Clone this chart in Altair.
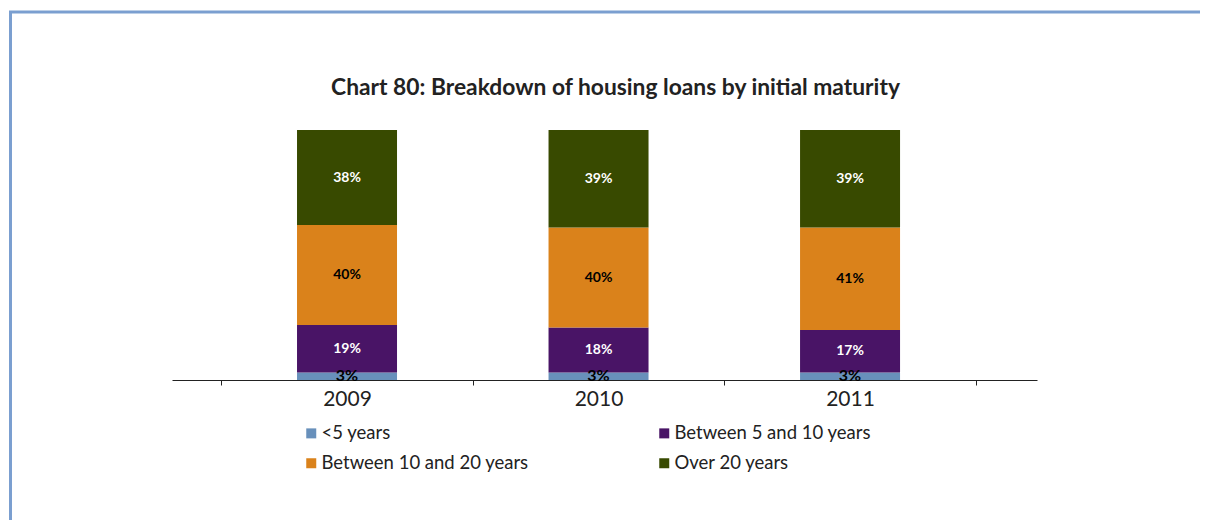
import altair as alt
import pandas as pd

years = ["2009", "2010", "2011"]
categories = ["<5 years", "Between 5 and 10 years", "Between 10 and 20 years", "Over 20 years"]
under5 = [3, 3, 3]
b5_10 = [19, 18, 17]
b10_20 = [40, 40, 41]
over20 = [38, 39, 39]
colors = ["#6890bb", "#491466", "#da821b", "#384a00"]
title_text = "Chart 80: Breakdown of housing loans by initial maturity"

series = [under5, b5_10, b10_20, over20]
rows = []
for i, yr in enumerate(years):
    for k, cat in enumerate(categories):
        v = series[k][i]
        rows.append({"year": yr, "cat": cat, "order": k, "value": v, "label": f"{v}%"})
df = pd.DataFrame(rows)

FONT = "Lato"

xenc = alt.X(
    "year:N", sort=years,
    scale=alt.Scale(paddingInner=0, paddingOuter=0.2196, align=0.446),
    axis=alt.Axis(title=None, labelAngle=0, tickBand="extent", tickSize=5,
                  domainColor="#222222", tickColor="#222222", labelColor="#222222",
                  labelFont=FONT, labelFontSize=21, labelPadding=3, grid=False),
)
yscale = alt.Scale(domain=[0, 100], nice=False, zero=True)

bars = alt.Chart(df).mark_bar(width=100).encode(
    x=xenc,
    y=alt.Y("value:Q", stack="zero", scale=yscale, axis=None),
    color=alt.Color(
        "cat:N",
        scale=alt.Scale(domain=categories, range=colors),
        legend=alt.Legend(
            title=None, orient="none", legendX=130, legendY=294, columns=2,
            direction="horizontal", padding=0,
            columnPadding=126, rowPadding=11, symbolType="square", symbolSize=100,
            symbolStrokeWidth=0, labelFont=FONT, labelFontSize=18.5, labelColor="#222222",
            labelLimit=400, labelOffset=1,
        ),
    ),
    order=alt.Order("order:Q", sort="ascending"),
)

dark_bg = alt.FieldOneOfPredicate(field="cat", oneOf=[categories[0], categories[2]])
small = alt.FieldOneOfPredicate(field="cat", oneOf=[categories[0]])

labels = alt.Chart(df).transform_stack(
    stack="value", groupby=["year"], as_=["y0", "y1"],
    sort=[alt.SortField("order", order="ascending")],
).transform_calculate(
    mid="(datum.y0 + datum.y1) / 2"
).mark_text(font=FONT, fontWeight="bold", baseline="middle", align="center").encode(
    x=alt.X("year:N", sort=years),
    y=alt.Y("mid:Q", scale=yscale, axis=None),
    text="label:N",
    color=alt.condition(dark_bg, alt.value("#000000"), alt.value("#ffffff")),
    size=alt.condition(small, alt.value(16), alt.value(14)),
)

title = alt.Chart(pd.DataFrame({"t": [title_text]})).mark_text(
    font=FONT, fontWeight="bold", fontSize=22.8, color="#222222",
    align="center", baseline="alphabetic",
).encode(x=alt.value(443.5), y=alt.value(-35), text="t:N")

border = alt.Chart(pd.DataFrame({"a": [0]})).mark_rect(
    filled=False, stroke="#7b9fd0", strokeWidth=3
).encode(
    x=alt.value(-161.5), x2=alt.value(1300), y=alt.value(-118), y2=alt.value(700)
)

chart = alt.layer(border, bars, labels, title).properties(
    width=865, height=250,
    autosize=alt.AutoSizeParams(type="none"),
    padding={"left": 164, "top": 122, "right": 163, "bottom": 140},
).configure_view(stroke=None)

chart.save("out.html", embed_options={"renderer": "svg", "actions": False})
